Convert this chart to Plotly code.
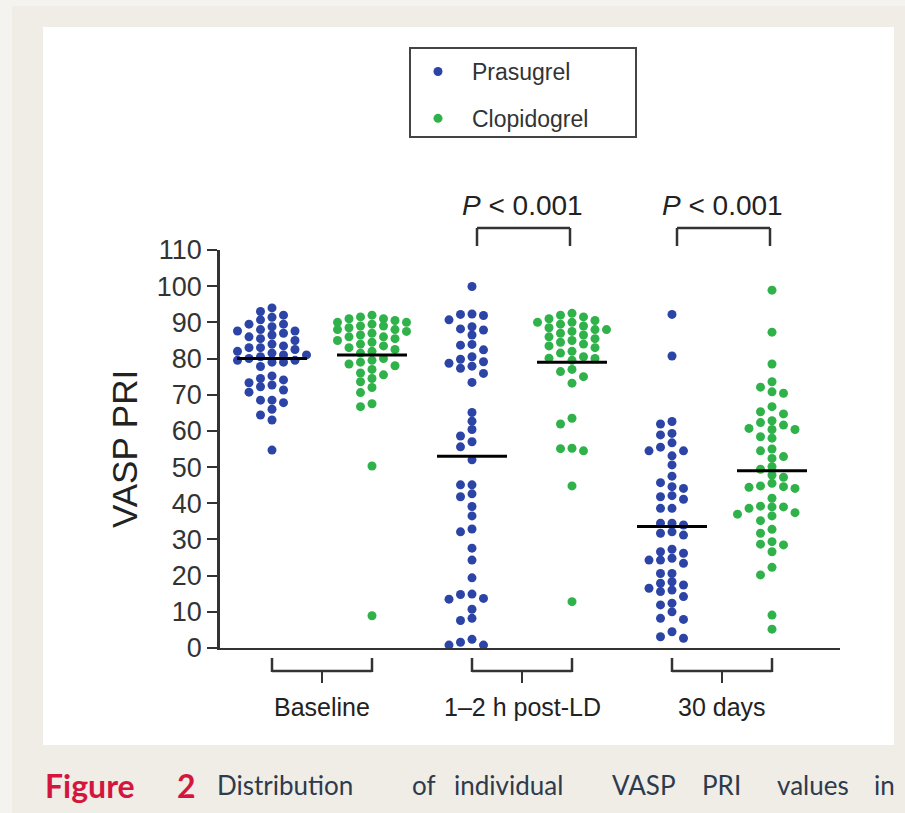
import numpy as np
import plotly.graph_objects as go

# ---------------- data ----------------
groups = ["Baseline", "1\u20132 h post-LD", "30 days"]
series_names = ["Prasugrel", "Clopidogrel"]

baseline_prasugrel = [94, 93, 92, 91.4, 90.7, 89.5, 89.5, 88.8, 88, 87.6, 87.6, 87, 86.5, 86,
                      85.5, 85, 84, 83.5, 83, 83, 82.5, 82, 81.5, 81, 81, 80.5, 80, 79.5, 79.5,
                      79, 79, 77.8, 75.2, 74.5, 74.1, 73.3, 72.7, 72.2, 71.3, 70.7, 68.5, 68.5,
                      67.8, 66, 64.4, 63, 54.7]
baseline_clopidogrel = [92, 91.5, 91, 91, 90.5, 90, 90, 89.5, 89, 89, 88.5, 88, 88, 87.5, 87,
                        86.5, 86, 86, 85.5, 85, 84.5, 84, 83.5, 83, 82.5, 82, 81.5, 80, 79.5,
                        79, 78.5, 78, 77, 76, 75.5, 74.5, 73.6, 72, 70.6, 67.5, 66.7, 50.3, 8.9]
postld_prasugrel = [99.9, 92.2, 90.7, 91.9, 92.3, 88.8, 87.9, 86.5, 88.2, 83.9, 82.4, 83.7, 80.5,
                    79.1, 77.9, 77.3, 78.7, 79.8, 75.9, 73.4, 65.1, 62.7, 60.4, 58.6, 57.0, 55.6,
                    52.0, 45.1, 45.1, 42.6, 41.8, 39.1, 36.5, 32.9, 32.1, 27.6, 24.3, 19.4, 14.8,
                    13.5, 13.7, 14.9, 10.7, 8.2, 7.6, 1.6, 0.8, 0.8, 2.4]
postld_clopidogrel = [92.5, 92, 91.5, 91, 90.5, 90, 90, 89.5, 89, 88.5, 88, 88, 87.5, 87, 86.5,
                      86, 85.5, 85, 84.5, 84, 83.5, 83, 82, 81.5, 80.5, 80.1, 80, 79.5, 77, 76.4,
                      75, 73.2, 63.5, 61.9, 55.2, 55.1, 54.5, 44.8, 12.8]
day30_prasugrel = [92.2, 80.7, 62.6, 61.9, 59.3, 58.9, 56.7, 55.5, 54.5, 54.5, 53.1, 50.6, 47.5,
                   44.6, 44.1, 45.7, 42.1, 41.1, 41.8, 38.6, 38.6, 34.5, 34.0, 34.5, 32.1, 31.2,
                   31.7, 27.3, 26.2, 26.6, 24.8, 24.3, 24.3, 23.4, 20.6, 20.6, 17.4, 18.3, 16.0,
                   16.5, 17.9, 15.6, 14.2, 11.9, 12.4, 10.0, 8.2, 7.9, 4.5, 2.7, 3.1]
day30_clopidogrel = [98.9, 87.3, 78.5, 73.6, 70.8, 70.4, 72.1, 66.7, 65.3, 64.7, 62.8, 62.3, 61.6,
                     60.7, 60.4, 60.4, 58.4, 58.0, 55.0, 52.9, 52.4, 54.5, 49.4, 50.1, 47.8, 47.2,
                     44.8, 44.1, 44.4, 44.6, 45.5, 41.4, 38.6, 37.4, 39.2, 37.0, 39.0, 39.0, 36.5,
                     35.2, 31.7, 32.8, 29.4, 28.5, 26.6, 28.7, 22.3, 20.2, 9.1, 5.2]

medians_prasugrel = [80, 53, 33.6]
medians_clopidogrel = [81, 79, 49]

p_labels = ["", "<i>P</i> < 0.001", "<i>P</i> < 0.001"]

# ---------------- layout constants ----------------
W, H = 905, 813
ML, MR, MT, MB = 220, 65, 250, 165
X_RANGE = [0.48, 6.68]
Y_RANGE = [0, 110]
plot_w = W - ML - MR
plot_h = H - MT - MB
px_per_x = plot_w / (X_RANGE[1] - X_RANGE[0])
px_per_y = plot_h / (Y_RANGE[1] - Y_RANGE[0])

BLUE = "#2b44a6"
GREEN = "#30b24b"
AXIS = "#333333"


def swarm(vals, step=11.5, mind=8.0, kmax=3):
    """Greedy beeswarm offsets (x units) computed from values."""
    vals = list(vals)
    order = sorted(range(len(vals)), key=lambda i: -vals[i])
    placed = []
    offs = [0.0] * len(vals)
    cands = [0]
    for k in range(1, kmax + 1):
        cands += [-k, k]
    for i in order:
        y = vals[i] * px_per_y
        best, best_d = None, -1
        for k in cands:
            x = k * step
            d = min([np.hypot(x - px, y - py) for px, py in placed] + [1e9])
            if d >= mind:
                best = x
                break
            if d > best_d:
                best_d, best = d, x
        placed.append((best, y))
        offs[i] = best / px_per_x
    return offs


fig = go.Figure()

data_sets = [
    (baseline_prasugrel, baseline_clopidogrel),
    (postld_prasugrel, postld_clopidogrel),
    (day30_prasugrel, day30_clopidogrel),
]

for s, (name, color, medians) in enumerate([
        ("Prasugrel", BLUE, medians_prasugrel),
        ("Clopidogrel", GREEN, medians_clopidogrel)]):
    xs, ys = [], []
    for g, pair in enumerate(data_sets):
        vals = pair[s]
        center = 1 + 2 * g + s
        offs = swarm(vals)
        xs += [center + o for o in offs]
        ys += list(vals)
    fig.add_trace(go.Scatter(
        x=xs, y=ys, mode="markers", name=name, legendgroup=name,
        marker=dict(color=color, size=9, line=dict(width=0)),
        cliponaxis=False, hoverinfo="y"))
    # median lines
    mx, my = [], []
    for g, m in enumerate(medians):
        center = 1 + 2 * g + s
        mx += [center - 0.35, center + 0.35, None]
        my += [m, m, None]
    fig.add_trace(go.Scatter(x=mx, y=my, mode="lines", showlegend=False,
                             line=dict(color="black", width=3), hoverinfo="skip"))

shapes = []
# outer background strips and white panel
shapes.append(dict(type="rect", xref="paper", yref="paper", layer="below",
                   x0=-ML / plot_w, x1=(12 - ML) / plot_w, y0=-MB / plot_h, y1=(H - MB) / plot_h,
                   fillcolor="#f5f3ef", line=dict(width=0)))
shapes.append(dict(type="rect", xref="paper", yref="paper", layer="below",
                   x0=-ML / plot_w, x1=(W - ML) / plot_w, y0=(H - MB - 6) / plot_h, y1=(H - MB) / plot_h,
                   fillcolor="#f5f3ef", line=dict(width=0)))
shapes.append(dict(type="rect", xref="paper", yref="paper", layer="below",
                   x0=(43 - ML) / plot_w, x1=(894 - ML) / plot_w,
                   y0=(H - MB - 745) / plot_h, y1=(H - MB - 27) / plot_h,
                   fillcolor="white", line=dict(width=0)))


def py(pix):
    return (H - MB - pix) / plot_h


# bottom group brackets and top significance brackets
for g in range(3):
    a, b = 1 + 2 * g, 2 + 2 * g
    c = (a + b) / 2
    shapes.append(dict(type="line", xref="x", yref="paper", x0=a, x1=a, y0=py(658), y1=py(672),
                       line=dict(color=AXIS, width=2.5)))
    shapes.append(dict(type="line", xref="x", yref="paper", x0=b, x1=b, y0=py(658), y1=py(672),
                       line=dict(color=AXIS, width=2.5)))
    shapes.append(dict(type="line", xref="x", yref="paper", x0=a, x1=b, y0=py(671), y1=py(671),
                       line=dict(color=AXIS, width=2.5)))
    shapes.append(dict(type="line", xref="x", yref="paper", x0=c, x1=c, y0=py(671), y1=py(683),
                       line=dict(color=AXIS, width=2)))
    if p_labels[g]:
        shapes.append(dict(type="line", xref="x", yref="paper", x0=a + 0.05, x1=a + 0.05,
                           y0=py(228), y1=py(246), line=dict(color=AXIS, width=2.5)))
        shapes.append(dict(type="line", xref="x", yref="paper", x0=b - 0.02, x1=b - 0.02,
                           y0=py(228), y1=py(246), line=dict(color=AXIS, width=2.5)))
        shapes.append(dict(type="line", xref="x", yref="paper", x0=a + 0.05, x1=b - 0.02,
                           y0=py(228), y1=py(228), line=dict(color=AXIS, width=2.5)))

# legend box
shapes.append(dict(type="rect", xref="paper", yref="paper",
                   x0=(410 - ML) / plot_w, x1=(636 - ML) / plot_w, y0=py(137), y1=py(48),
                   line=dict(color="#444444", width=2), fillcolor="rgba(0,0,0,0)"))

annotations = []
for g, lab in enumerate(groups):
    c = 1.5 + 2 * g
    annotations.append(dict(x=c, xref="x", y=py(707), yref="paper", text=lab, showarrow=False,
                            font=dict(family="Liberation Sans Narrow, Liberation Sans, Arial", size=25, color="#222"),
                            xanchor="center", yanchor="middle"))
    if p_labels[g]:
        annotations.append(dict(x=c, xref="x", y=py(205), yref="paper", text=p_labels[g],
                                showarrow=False, xanchor="center", yanchor="middle",
                                font=dict(family="Liberation Sans, Arial", size=28, color="#222")))

annotations.append(dict(x=(124 - ML) / plot_w, xref="paper", y=py(449), yref="paper",
                        text="VASP PRI", textangle=-90, showarrow=False,
                        font=dict(family="Liberation Sans, Arial", size=35, color="#222"),
                        xanchor="center", yanchor="middle"))

caption_words = ["<b>Figure</b>", "<b>2</b>", "Distribution", "of", "individual", "VASP", "PRI",
                 "values", "in"]
caption_x = [43, 175, 215, 410, 452, 610, 700, 775, 872]
for w, xp in zip(caption_words, caption_x):
    bold = w.startswith("<b>")
    col = "#d4163f" if bold else "#2e3a4d"
    annotations.append(dict(x=(xp - ML) / plot_w, xref="paper", y=py(785), yref="paper",
                            text=w, showarrow=False, xanchor="left", yanchor="middle",
                            font=dict(family="Lato, Open Sans, sans-serif",
                                      size=32 if bold else 26, color=col)))

fig.update_layout(
    width=W, height=H,
    margin=dict(l=ML, r=MR, t=MT, b=MB, pad=0),
    paper_bgcolor="#efede5", plot_bgcolor="rgba(0,0,0,0)",
    shapes=shapes, annotations=annotations,
    showlegend=True,
    legend=dict(x=(404 - ML) / plot_w, y=py(50), xanchor="left", yanchor="top",
                bgcolor="rgba(0,0,0,0)", borderwidth=0, itemwidth=58,
                traceorder="grouped", tracegroupgap=14,
                font=dict(family="Liberation Sans, Arial", size=23, color="#333")),
    xaxis=dict(range=X_RANGE, showgrid=False, zeroline=False, showticklabels=False,
               ticks="", showline=True, linecolor=AXIS, linewidth=1.5, fixedrange=True),
    yaxis=dict(range=Y_RANGE, showgrid=False, zeroline=False, tickmode="array",
               tickvals=list(range(0, 111, 10)), ticks="outside", ticklen=10, tickwidth=2,
               tickcolor=AXIS, showline=True, linecolor=AXIS, linewidth=2.5,
               tickfont=dict(family="Liberation Sans, Arial", size=27, color="#333"),
               fixedrange=True),
)

fig.write_html("out.html")
